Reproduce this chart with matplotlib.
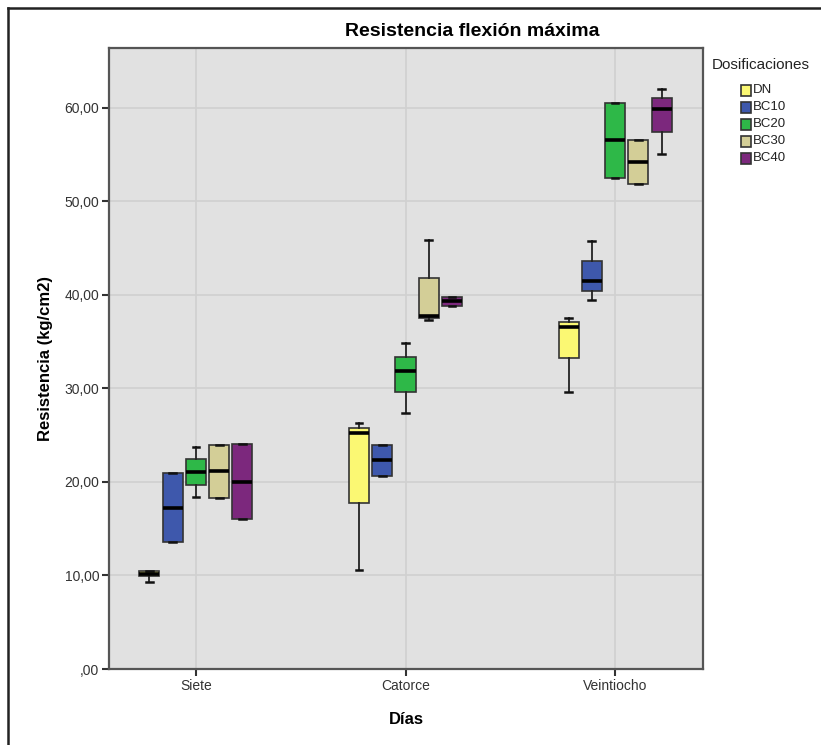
import numpy as np
import matplotlib.pyplot as plt
from matplotlib.lines import Line2D

plt.rcParams['font.family'] = ['Liberation Sans', 'DejaVu Sans']

# Datos (min, q1, mediana, q3, max)
dias = ['Siete', 'Catorce', 'Veintiocho']
dosis = ['DN', 'BC10', 'BC20', 'BC30', 'BC40']
colores = ['#FBF873', '#3E58AC', '#2EB848', '#D3CE97', '#7C287D']

v_min = [[9.3, 13.6, 18.4, 18.3, 16.0],
         [10.6, 20.6, 27.4, 37.3, 38.8],
         [29.6, 39.5, 52.5, 51.9, 55.1]]
v_q1 = [[9.9, 13.6, 19.7, 18.3, 16.0],
        [17.8, 20.6, 29.6, 37.5, 38.8],
        [33.2, 40.4, 52.5, 51.9, 57.4]]
v_med = [[10.2, 17.2, 21.1, 21.2, 20.0],
         [25.2, 22.3, 31.9, 37.7, 39.4],
         [36.6, 41.5, 56.6, 54.2, 59.9]]
v_q3 = [[10.5, 21.0, 22.5, 24.0, 24.1],
        [25.8, 23.9, 33.4, 41.8, 39.8],
        [37.1, 43.6, 60.5, 56.6, 61.0]]
v_max = [[10.5, 21.0, 23.7, 24.0, 24.1],
         [26.3, 23.9, 34.9, 45.9, 39.8],
         [37.5, 45.8, 60.5, 56.6, 62.0]]

fig = plt.figure(figsize=(8.21, 7.45), dpi=100)
ax = fig.add_axes([0.1328, 0.102, 0.7235, 0.8336])
ax.set_facecolor('#E1E1E1')

paso = 0.111
ancho = 0.0955
for i in range(3):
    for j in range(5):
        st = [{'whislo': v_min[i][j], 'q1': v_q1[i][j], 'med': v_med[i][j],
               'q3': v_q3[i][j], 'whishi': v_max[i][j], 'fliers': []}]
        ax.bxp(st, positions=[i + (j - 2) * paso], widths=ancho, capwidths=0.033,
               patch_artist=True, manage_ticks=False,
               boxprops=dict(facecolor=colores[j], edgecolor='#333333', linewidth=1.2),
               medianprops=dict(color='black', linewidth=2.6, solid_capstyle='butt'),
               whiskerprops=dict(color='#222222', linewidth=1.3),
               capprops=dict(color='#111111', linewidth=1.8),
               zorder=3)

ax.set_xlim(-0.415, 2.42)
ax.set_ylim(0, 66.4)
ax.set_xticks(range(3))
ax.set_xticklabels(dias)
yt = np.arange(0, 61, 10)
etiquetas = []
for v in yt:
    t = ('%.2f' % v).replace('.', ',')
    if v == 0:
        t = t.lstrip('0')
    etiquetas.append(t)
ax.set_yticks(yt)
ax.set_yticklabels(etiquetas)
ax.grid(True, color='#D0D0D0', linewidth=1.2, zorder=0)
ax.set_axisbelow(True)
ax.tick_params(axis='both', length=5, width=1.5, color='#333333', labelsize=10, labelcolor='#333333', pad=2)
for s in ax.spines.values():
    s.set_color('#555555')
    s.set_linewidth(1.6)

ax.set_ylabel('Resistencia (kg/cm2)', fontsize=12, fontweight='bold', labelpad=8)
ax.set_xlabel('Días', fontsize=12, fontweight='bold', labelpad=14)
fig.text(0.575, 0.958, 'Resistencia flexión máxima', ha='center', va='center',
         fontsize=14, fontweight='bold')

# Leyenda
fig.text(712 / 821, 1 - 65 / 745, 'Dosificaciones', fontsize=11, va='center', ha='left', color='#222222')
for j, d in enumerate(dosis):
    yy = 1 - (90 + j * 17) / 745
    fig.patches.append(plt.Rectangle((741 / 821, yy - 5.5 / 745), 10 / 821, 11 / 745,
                                     transform=fig.transFigure, facecolor=colores[j],
                                     edgecolor='#333333', linewidth=1.2))
    fig.text(753 / 821, yy, d, fontsize=9.5, va='center', ha='left', color='#222222')

# Marco exterior
fig.add_artist(Line2D([8 / 821, 1], [1 - 8 / 745, 1 - 8 / 745], color='#222222', linewidth=1.8))
fig.add_artist(Line2D([8 / 821, 8 / 821], [0, 1 - 8 / 745], color='#222222', linewidth=1.8))

fig.savefig('out.png', dpi=100)
